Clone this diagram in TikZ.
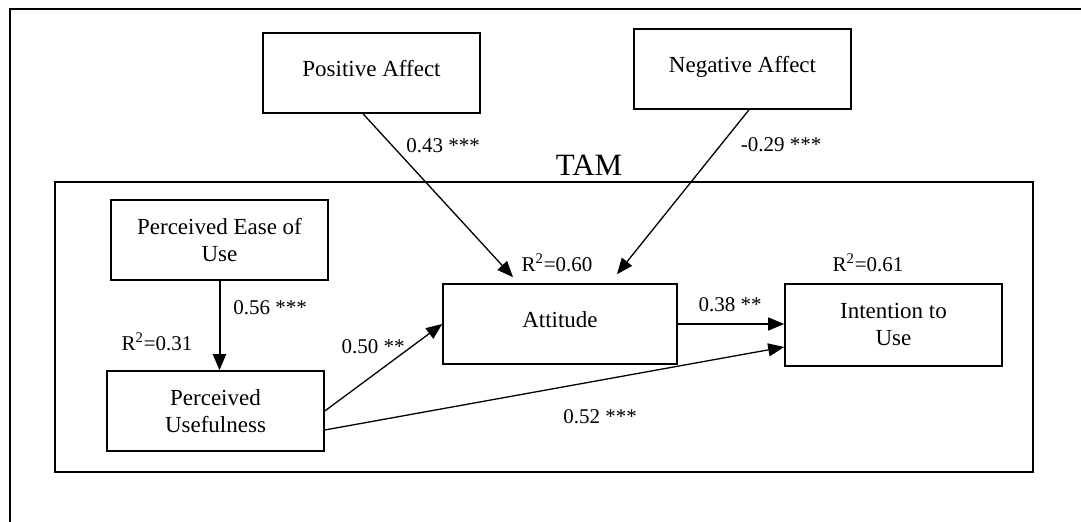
\documentclass[tikz,border=0pt]{standalone}
\usepackage{fontspec}
\setmainfont{Liberation Serif}
\usetikzlibrary{shapes,backgrounds,arrows.meta}

\tikzset{
  construct/.style={draw, line width=0.8pt, minimum width=108.5pt, minimum height=40pt,
    align=center, inner sep=1pt, font=\fontsize{11.5}{13.5}\selectfont},
  coef/.style={inner sep=0pt, font=\fontsize{10.5}{12}\selectfont},
  effect/.style={draw, line width=0.65pt, ->},
  >={Triangle[length=8pt,width=6.5pt]}
}

\begin{document}
\begin{tikzpicture}[x=0.5pt, y=-0.5pt]
	\useasboundingbox (0,0) rectangle (1081,522);
	\draw[line width=0.6pt] (10,522) -- (10,9) -- (1081,9); % frame
	% TAM block
	\node[draw, line width=0.8pt, minimum width=489pt, minimum height=145pt, inner sep=0pt] (tam) at (544,327) {};
	\node[font=\fontsize{15.5}{18}\selectfont, inner sep=0pt] (tamlabel) at (589,165) {TAM};
	% constructs
	\node[construct] (pa) at (371.5,73) {Positive Affect\\[-9pt]};
	\node[construct] (na) at (742.5,69) {Negative Affect\\[-9pt]};
	\node[construct] (peou) at (219.5,240) {Perceived Ease of\\Use};
	\node[construct] (pu) at (215.5,411) {Perceived\\Usefulness};
	\node[construct, minimum width=117pt] (att) at (560,324) {Attitude\\[-9pt]};
	\node[construct, minimum height=41pt] (itu) at (893.5,325) {Intention to\\Use};
	% paths
	\draw[effect] ([xshift=-4.25pt]pa.south) -- ([xshift=-23.5pt,yshift=3pt]att.north);
	\draw[effect] ([xshift=3.25pt]na.south) -- ([xshift=28.5pt,yshift=4.5pt]att.north);
	\draw[effect, line width=1pt] (peou.south) -- (peou.south |- pu.north);
	\draw[effect] (pu.east) -- (att.west);
	\draw[effect] (att.east) -- (att.east -| itu.west);
	\draw[effect] ([yshift=-9.5pt]pu.east) -- ([yshift=-11pt]itu.west);
	% coefficients
	\node[coef] (l43) at (443,146) {0.43 ***};
	\node[coef] (l29) at (781,145) {-0.29 ***};
	\node[coef] (r60) at (557,263) {R\textsuperscript{2}=0.60};
	\node[coef] (r61) at (868,263) {R\textsuperscript{2}=0.61};
	\node[coef] (l56) at (270,308) {0.56 ***};
	\node[coef] (r31) at (157,342) {R\textsuperscript{2}=0.31};
	\node[coef] (l50) at (373,347) {0.50 **};
	\node[coef] (l38) at (730,305) {0.38 **};
	\node[coef] (l52) at (600,417) {0.52 ***};
\end{tikzpicture}
\end{document}
